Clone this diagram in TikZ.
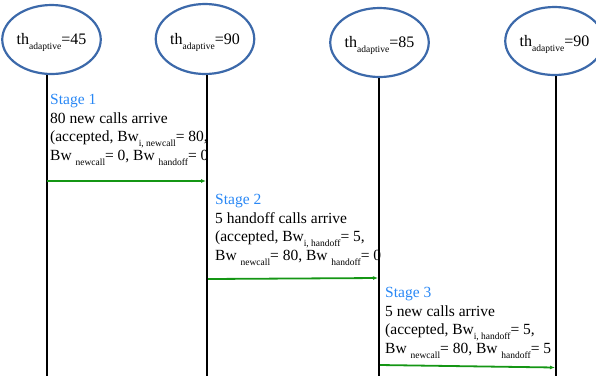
\documentclass[tikz,border=0pt]{standalone}
\usepackage{fontspec}
\setmainfont{Liberation Serif}
\usetikzlibrary{shapes.geometric,arrows.meta}

\definecolor{ringblue}{RGB}{60,105,170}
\definecolor{stageblue}{RGB}{40,135,245}
\definecolor{msggreen}{RGB}{20,150,20}

% lowered subscript used in the labels
\newcommand\lsub[1]{\raisebox{-5pt}[0pt][0pt]{\fontsize{9.5}{10}\selectfont #1}}

\begin{document}
\begin{tikzpicture}[x=1pt,y=-1pt,
  state/.style={ellipse,draw=ringblue,line width=2.2pt,inner sep=0pt,
    minimum width=76pt,minimum height=68pt,font=\fontsize{16}{18}\selectfont},
  lifeline/.style={line width=2pt,black},
  msg/.style={line width=1.8pt,msggreen,-{Latex[length=5pt,width=4pt]}},
  stagetext/.style={anchor=north west,align=left,inner sep=0pt,
    font=\fontsize{15.5}{18.5}\selectfont}]
\useasboundingbox (0,0) rectangle (596,376);

% threshold states
\node[state,minimum width=79pt,minimum height=69pt] (e1) at (51.5,39.5) {th\lsub{adaptive}=45};
\node[state,minimum height=70pt] (e2) at (205,39) {th\lsub{adaptive}=90};
\node[state,minimum width=75pt,minimum height=69pt] (e3) at (379.5,42.5) {th\lsub{adaptive}=85};
\node[state,minimum width=75pt] (e4) at (554.5,41) {th\lsub{adaptive}=90};

% lifeline ends
\coordinate (l1) at (47,376);
\coordinate (l2) at (207,376);
\coordinate (l3) at (379,376);
\coordinate (l4) at (556,376);

\draw[lifeline] (e1.south -| l1) -- (l1);
\draw[lifeline] (e2.south -| l2) -- (l2);
\draw[lifeline] (e3.south -| l3) -- (l3);
\draw[lifeline] (e4.south -| l4) -- (l4);

% message heights
\coordinate (m1) at (0,181);
\coordinate (m2a) at (0,279);
\coordinate (m2b) at (0,278);
\coordinate (m3a) at (0,365);
\coordinate (m3b) at (0,367.5);

\draw[msg] (l1 |- m1) -- ([xshift=-1pt]l2 |- m1);
\draw[msg] ([xshift=1pt]l2 |- m2a) -- ([xshift=-1pt]l3 |- m2b);
\draw[msg] ([xshift=1pt]l3 |- m3a) -- ([xshift=-1pt]l4 |- m3b);

% stage descriptions
\node[stagetext] (s1) at (50,94.5) {\textcolor{stageblue}{Stage 1}\\
80 new calls arrive\\
(accepted, Bw\lsub{i, newcall}= 80,\\
Bw \lsub{newcall}= 0, Bw \lsub{handoff}= 0};
\node[stagetext] (s2) at (215,194.5) {\textcolor{stageblue}{Stage 2}\\
5 handoff calls arrive\\
(accepted, Bw\lsub{i, handoff}= 5,\\
Bw \lsub{newcall}= 80, Bw \lsub{handoff}= 0};
\node[stagetext] (s3) at (385,287.5) {\textcolor{stageblue}{Stage 3}\\
5 new calls arrive\\
(accepted, Bw\lsub{i, handoff}= 5,\\
Bw \lsub{newcall}= 80, Bw \lsub{handoff}= 5};
\end{tikzpicture}
\end{document}
